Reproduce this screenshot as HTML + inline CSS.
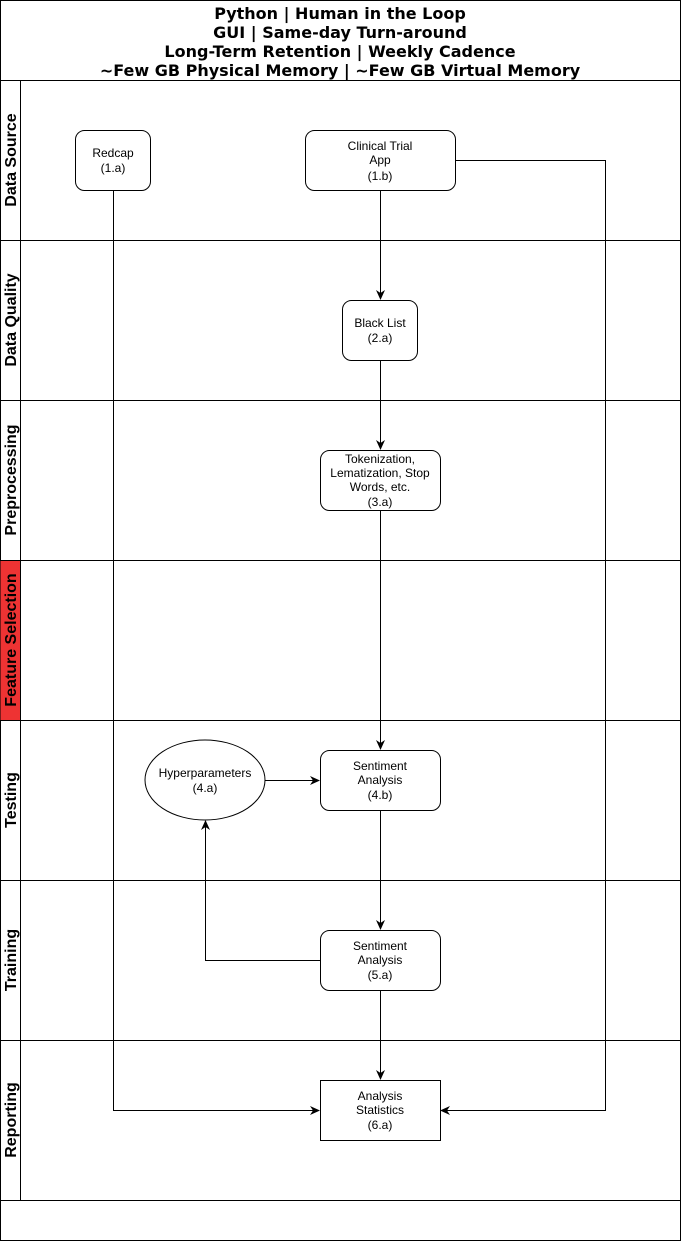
<!DOCTYPE html>
<html><head><meta charset="utf-8"><style>
html,body{margin:0;padding:0;background:#fff;width:681px;height:1241px;overflow:hidden}
svg{display:block}
.n{font-family:"Liberation Sans",Helvetica,sans-serif;font-size:12px;fill:#000;text-anchor:middle}
.h{font-family:"DejaVu Sans",Verdana,sans-serif;font-weight:bold;font-size:16px;text-anchor:middle}
.l{font-family:"Liberation Sans",Helvetica,sans-serif;font-weight:bold;font-size:16px;text-anchor:middle}
</style></head><body>
<svg width="681" height="1241" viewBox="0 0 681 1241" xmlns="http://www.w3.org/2000/svg">
<defs><marker id="a" viewBox="0 0 10 10" refX="9" refY="5" markerWidth="10" markerHeight="10" orient="auto" markerUnits="userSpaceOnUse"><path d="M0,0.5 L10,5 L0,9.5 L3,5 Z" fill="#000"/></marker></defs>
<rect x="0.5" y="0.5" width="680" height="1240" fill="#fff" stroke="#000"/>
<line x1="0" y1="80.5" x2="681" y2="80.5" stroke="#000"/>
<text class="h" x="340" y="19">Python | Human in the Loop</text>
<text class="h" x="340" y="38">GUI | Same-day Turn-around</text>
<text class="h" x="340" y="57">Long-Term Retention | Weekly Cadence</text>
<text class="h" x="340" y="76">~Few GB Physical Memory | ~Few GB Virtual Memory</text>
<rect x="0.5" y="560.5" width="20" height="160" fill="#ee3333"/>
<g stroke="#000" fill="none">
<line x1="20.5" y1="80" x2="20.5" y2="1200"/>
<line x1="0" y1="240.5" x2="681" y2="240.5"/>
<line x1="0" y1="400.5" x2="681" y2="400.5"/>
<line x1="0" y1="560.5" x2="681" y2="560.5"/>
<line x1="0" y1="720.5" x2="681" y2="720.5"/>
<line x1="0" y1="880.5" x2="681" y2="880.5"/>
<line x1="0" y1="1040.5" x2="681" y2="1040.5"/>
<line x1="0" y1="1200.5" x2="681" y2="1200.5"/>
</g>
<g class="l">
<text transform="translate(16,160) rotate(-90)">Data Source</text>
<text transform="translate(16,320) rotate(-90)">Data Quality</text>
<text transform="translate(16,480) rotate(-90)">Preprocessing</text>
<text transform="translate(16,640) rotate(-90)">Feature Selection</text>
<text transform="translate(16,800) rotate(-90)">Testing</text>
<text transform="translate(16,960) rotate(-90)">Training</text>
<text transform="translate(16,1120) rotate(-90)">Reporting</text>
</g>
<g stroke="#000" fill="none">
<polyline points="113.5,190 113.5,1110.5 319,1110.5" marker-end="url(#a)"/>
<polyline points="455,160.5 605.5,160.5 605.5,1110.5 441,1110.5" marker-end="url(#a)"/>
<line x1="380.5" y1="190" x2="380.5" y2="299" marker-end="url(#a)"/>
<line x1="380.5" y1="360" x2="380.5" y2="449" marker-end="url(#a)"/>
<line x1="380.5" y1="510" x2="380.5" y2="749" marker-end="url(#a)"/>
<line x1="265" y1="780.5" x2="319" y2="780.5" marker-end="url(#a)"/>
<line x1="380.5" y1="810" x2="380.5" y2="929" marker-end="url(#a)"/>
<polyline points="320,960.5 205.5,960.5 205.5,821" marker-end="url(#a)"/>
<line x1="380.5" y1="990" x2="380.5" y2="1079" marker-end="url(#a)"/>
</g>
<g stroke="#000" fill="#fff">
<rect x="75.5" y="130.5" width="75" height="60" rx="9"/>
<rect x="305.5" y="130.5" width="150" height="60" rx="9"/>
<rect x="342.5" y="300.5" width="75" height="60" rx="9"/>
<rect x="320.5" y="450.5" width="120" height="60" rx="9"/>
<ellipse cx="205" cy="780" rx="60" ry="40"/>
<rect x="320.5" y="750.5" width="120" height="60" rx="9"/>
<rect x="320.5" y="930.5" width="120" height="60" rx="9"/>
<rect x="320.5" y="1080.5" width="120" height="60"/>
</g>
<text class="n" x="113" y="157">Redcap</text><text class="n" x="113" y="172">(1.a)</text>
<text class="n" x="380" y="150">Clinical Trial</text><text class="n" x="380" y="164">App</text><text class="n" x="380" y="180">(1.b)</text>
<text class="n" x="380" y="327">Black List</text><text class="n" x="380" y="342">(2.a)</text>
<text class="n" x="380" y="463">Tokenization,</text><text class="n" x="380" y="477">Lematization, Stop</text><text class="n" x="380" y="491">Words, etc.</text><text class="n" x="380" y="506">(3.a)</text>
<text class="n" x="205" y="777">Hyperparameters</text><text class="n" x="205" y="792">(4.a)</text>
<text class="n" x="380" y="770">Sentiment</text><text class="n" x="380" y="784">Analysis</text><text class="n" x="380" y="799">(4.b)</text>
<text class="n" x="380" y="950">Sentiment</text><text class="n" x="380" y="964">Analysis</text><text class="n" x="380" y="979">(5.a)</text>
<text class="n" x="380" y="1100">Analysis</text><text class="n" x="380" y="1114">Statistics</text><text class="n" x="380" y="1129">(6.a)</text>
</svg>
</body></html>
